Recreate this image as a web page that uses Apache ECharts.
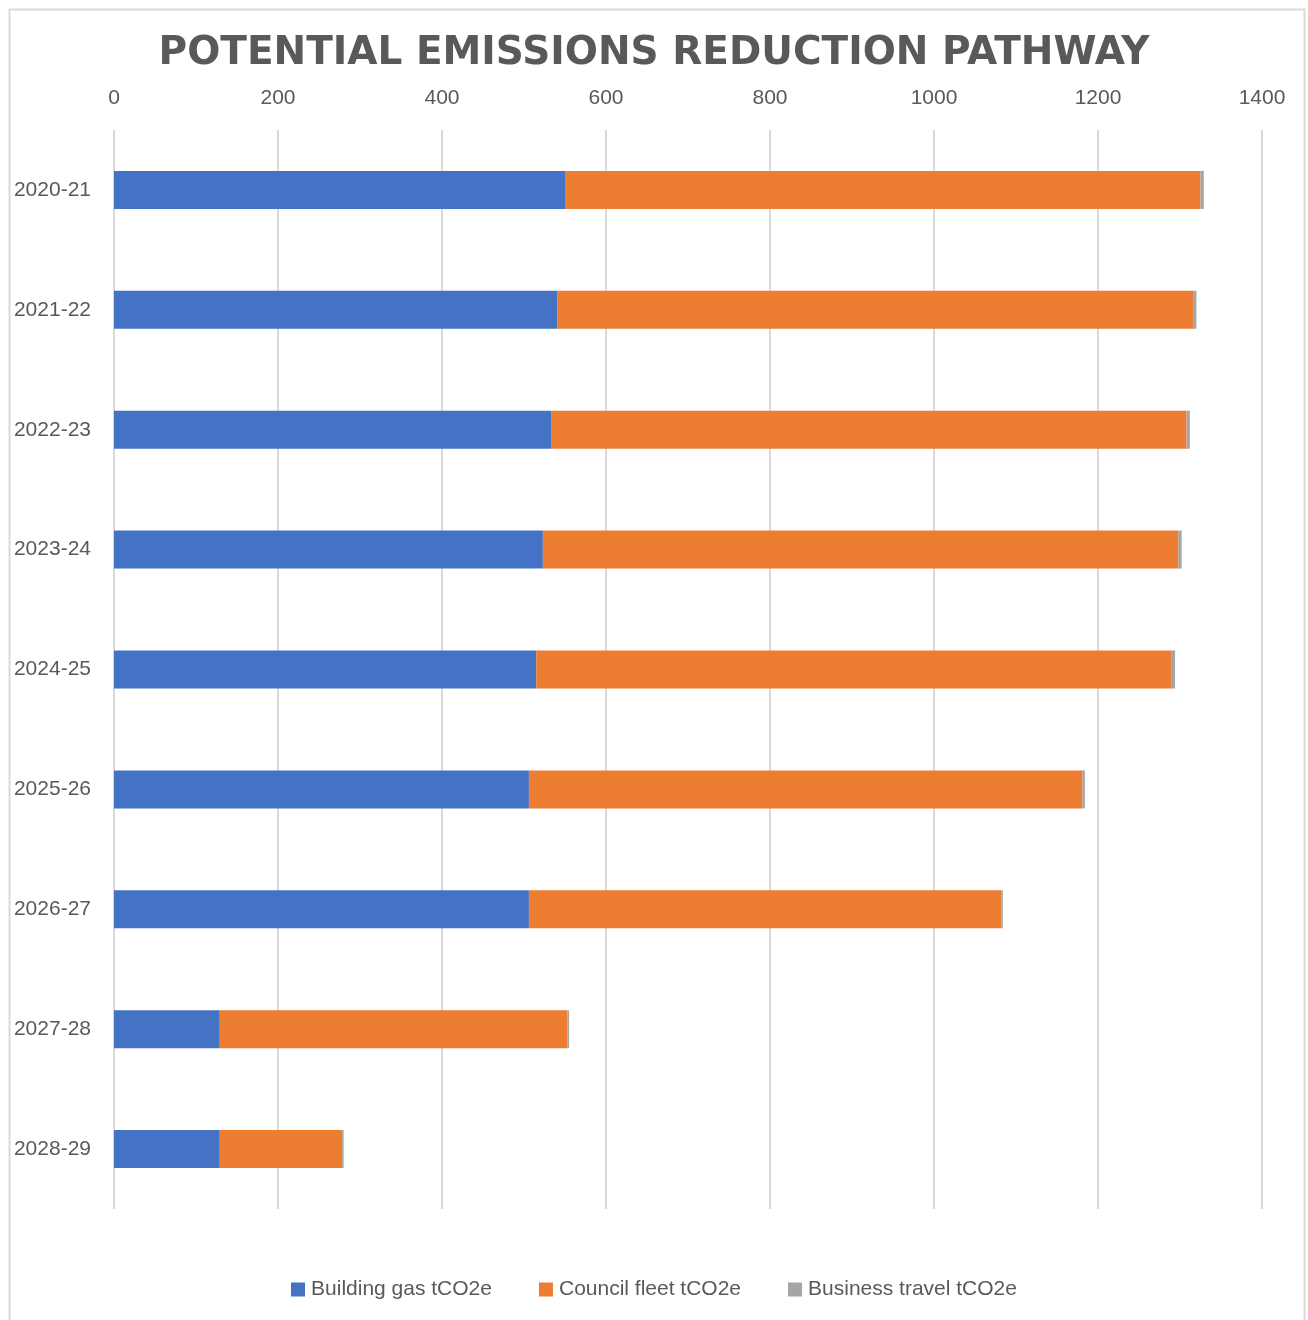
<!DOCTYPE html>
<html>
<head>
<meta charset="utf-8">
<script src="https://cdn.jsdelivr.net/npm/echarts@6/dist/echarts.min.js"></script>
<style>
  html, body { margin: 0; padding: 0; background: #fff; }
  #chart { width: 1308px; height: 1320px; }
</style>
</head>
<body>
<div id="chart"></div>
<script>
// Financial years, top to bottom
const years = ['2020-21', '2021-22', '2022-23', '2023-24', '2024-25', '2025-26', '2026-27', '2027-28', '2028-29'];
// Emissions by source, tCO2e
const buildingGas = [550, 541, 533, 523, 515, 506, 506, 129, 129];
const councilFleet = [775, 775, 775, 775, 775, 675, 576, 424, 149];
const businessTravel = [4, 4, 4, 4, 4, 3, 2, 2, 2];
const seriesNames = ['Building gas tCO2e', 'Council fleet tCO2e', 'Business travel tCO2e'];
const seriesColors = ['#4472C4', '#ED7D31', '#A5A5A5'];

const chart = echarts.init(document.getElementById('chart'));
const textColor = '#595959';
const font = 'Liberation Sans, Arial, sans-serif';

const mk = (name, data, color) => ({
  name, type: 'bar', stack: 'total', data,
  barWidth: 38,
  itemStyle: { color },
  emphasis: { disabled: true }
});

chart.setOption({
  animation: false,
  backgroundColor: '#fff',
  textStyle: { fontFamily: font },
  title: {
    text: 'POTENTIAL EMISSIONS REDUCTION PATHWAY',
    left: 'center', top: 29,
    textStyle: { fontSize: 39, fontWeight: 'bold', color: textColor, fontFamily: 'DejaVu Sans, sans-serif' }
  },
  legend: {
    bottom: 15, left: 'center',
    itemWidth: 14, itemHeight: 14, itemGap: 47,
    icon: 'rect',
    textStyle: { fontSize: 21, color: textColor, fontFamily: font, padding: [0, 0, 0, 1] }
  },
  grid: { left: 114, right: 46, top: 130, bottom: 111, containLabel: false },
  xAxis: {
    type: 'value', position: 'top', min: 0, max: 1400, interval: 200,
    axisLine: { show: false }, axisTick: { show: false },
    axisLabel: { fontSize: 21, color: textColor, margin: 21, fontFamily: font, formatter: v => String(v) },
    splitLine: { lineStyle: { color: '#d9d9d9', width: 2 } }
  },
  yAxis: {
    type: 'category', data: years, inverse: true,
    axisLine: { show: false }, axisTick: { show: false },
    axisLabel: { fontSize: 21, color: textColor, margin: 23, fontFamily: font }
  },
  series: [
    mk(seriesNames[0], buildingGas, seriesColors[0]),
    mk(seriesNames[1], councilFleet, seriesColors[1]),
    mk(seriesNames[2], businessTravel, seriesColors[2])
  ],
  graphic: [{
    type: 'rect', left: 7, top: 7,
    shape: { width: 1295, height: 1330 },
    style: { fill: 'none', stroke: '#d9d9d9', lineWidth: 2 },
    silent: true
  }]
});
</script>
</body>
</html>
